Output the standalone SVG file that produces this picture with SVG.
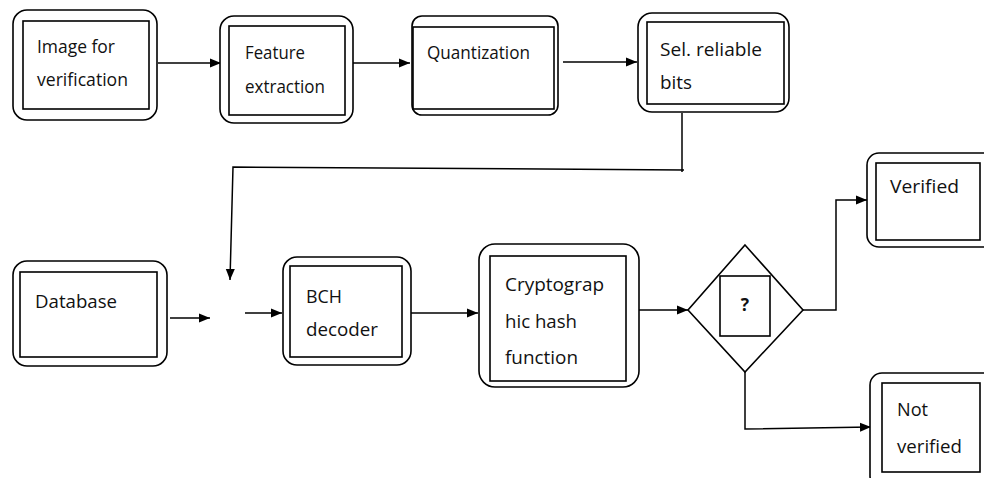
<svg xmlns="http://www.w3.org/2000/svg" width="984" height="478" viewBox="0 0 984 478">
<defs>
<style>
.outer{fill:#fff;stroke:#000;stroke-width:1.6}
.inner{fill:none;stroke:#000;stroke-width:1.6}
.t{font-family:"Open Sans","Noto Sans","Liberation Sans",sans-serif;font-size:17.5px;fill:#111}
.c{fill:none;stroke:#000;stroke-width:1.5}
</style>
<marker id="ah" markerUnits="userSpaceOnUse" markerWidth="12" markerHeight="12" viewBox="0 0 12 12" refX="11" refY="6" orient="auto">
<path d="M0,1.5 L11,6 L0,10.5 Z" fill="#000"/>
</marker>
</defs>
<rect width="984" height="478" fill="#fff"/>
<g id="connectors">
<line class="c" x1="158" y1="63" x2="221" y2="63" marker-end="url(#ah)"/>
<line class="c" x1="353" y1="63" x2="410" y2="63" marker-end="url(#ah)"/>
<line class="c" x1="563" y1="62" x2="637" y2="62" marker-end="url(#ah)"/>
<polyline class="c" points="682,113 682,172"/>
<polyline class="c" points="684,170 233,167 230,280" marker-end="url(#ah)"/>
<line class="c" x1="170" y1="318" x2="210" y2="318" marker-end="url(#ah)"/>
<line class="c" x1="245" y1="313" x2="282" y2="313" marker-end="url(#ah)"/>
<line class="c" x1="411" y1="313" x2="478" y2="313" marker-end="url(#ah)"/>
<line class="c" x1="639" y1="310" x2="688" y2="310" marker-end="url(#ah)"/>
<polyline class="c" points="803,310 836,310 836,200 867,200" marker-end="url(#ah)"/>
<polyline class="c" points="745,372 745,429 871,427" marker-end="url(#ah)"/>
</g>
<g id="image">
<rect class="outer" x="13" y="10" width="144" height="110" rx="14"/>
<rect class="inner" x="23" y="21" width="126" height="88"/>
<text class="t" x="37" y="53" textLength="78" lengthAdjust="spacingAndGlyphs">Image for</text>
<text class="t" x="37" y="86" textLength="91" lengthAdjust="spacingAndGlyphs">verification</text>
</g>
<g id="feature">
<rect class="outer" x="220" y="16" width="133" height="107" rx="14"/>
<rect class="inner" x="229" y="26" width="116" height="89"/>
<text class="t" x="245" y="59" textLength="60" lengthAdjust="spacingAndGlyphs">Feature</text>
<text class="t" x="245" y="93" textLength="80" lengthAdjust="spacingAndGlyphs">extraction</text>
</g>
<g id="quant">
<rect class="outer" x="412" y="16" width="146" height="99" rx="10"/>
<rect class="inner" x="413" y="27" width="141" height="82"/>
<text class="t" x="427" y="59" textLength="103" lengthAdjust="spacingAndGlyphs">Quantization</text>
</g>
<g id="sel">
<rect class="outer" x="638" y="13" width="151" height="99" rx="14"/>
<rect class="inner" x="647" y="22" width="137" height="82"/>
<text class="t" x="660" y="56" textLength="102" lengthAdjust="spacingAndGlyphs">Sel. reliable</text>
<text class="t" x="660" y="89" textLength="32" lengthAdjust="spacingAndGlyphs">bits</text>
</g>
<g id="database">
<rect class="outer" x="13" y="261" width="154" height="105" rx="14"/>
<rect class="inner" x="20" y="272" width="137" height="85"/>
<text class="t" x="35" y="308" textLength="82" lengthAdjust="spacingAndGlyphs">Database</text>
</g>
<g id="bch">
<rect class="outer" x="283" y="257" width="128" height="108" rx="14"/>
<rect class="inner" x="290" y="266" width="112" height="91"/>
<text class="t" x="306" y="303" textLength="36" lengthAdjust="spacingAndGlyphs">BCH</text>
<text class="t" x="306" y="336" textLength="72" lengthAdjust="spacingAndGlyphs">decoder</text>
</g>
<g id="crypto">
<rect class="outer" x="479" y="244" width="160" height="143" rx="16"/>
<rect class="inner" x="490" y="256" width="136" height="125"/>
<text class="t" x="505" y="291" textLength="99" lengthAdjust="spacingAndGlyphs">Cryptograp</text>
<text class="t" x="505" y="328" textLength="72" lengthAdjust="spacingAndGlyphs">hic hash</text>
<text class="t" x="505" y="364" textLength="73" lengthAdjust="spacingAndGlyphs">function</text>
</g>
<g id="decision">
<polygon class="outer" points="745,245 803,310 745,372 688,310"/>
<rect class="inner" x="720" y="276" width="50" height="60" stroke-width="1.3"/>
<text class="t" x="745" y="311" text-anchor="middle" font-weight="bold">?</text>
</g>
<g id="verified">
<rect class="outer" x="867" y="153" width="130" height="94" rx="12"/>
<rect class="inner" x="876" y="163" width="104" height="77"/>
<text class="t" x="890" y="193" textLength="69" lengthAdjust="spacingAndGlyphs">Verified</text>
</g>
<g id="notverified">
<rect class="outer" x="870" y="373" width="130" height="115" rx="12"/>
<rect class="inner" x="882" y="383" width="98" height="89"/>
<text class="t" x="897" y="416" textLength="31" lengthAdjust="spacingAndGlyphs">Not</text>
<text class="t" x="897" y="453" textLength="65" lengthAdjust="spacingAndGlyphs">verified</text>
</g>
</svg>
